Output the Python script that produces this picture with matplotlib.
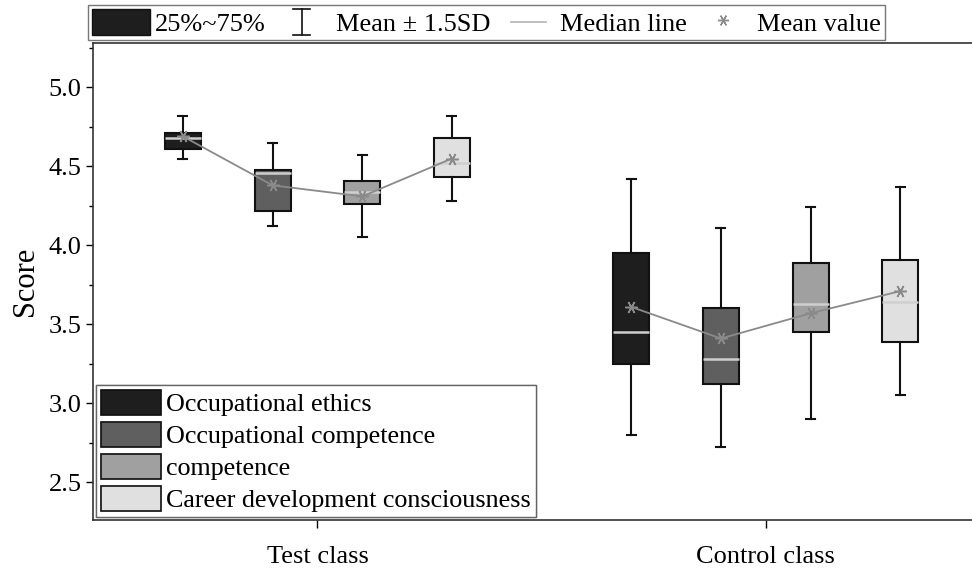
import numpy as np
import matplotlib.pyplot as plt
from matplotlib.patches import Patch
from matplotlib.lines import Line2D
from matplotlib.ticker import MultipleLocator
from matplotlib.legend_handler import HandlerBase

plt.rcParams['font.family'] = ['Liberation Serif', 'DejaVu Serif']

groups = ["Test class", "Control class"]
dims = ["Occupational ethics", "Occupational competence", "competence",
        "Career development consciousness"]
colors = ["#1e1e1e", "#5f5f5f", "#a0a0a0", "#e0e0e0"]

# per group: one value per dimension
whisk_hi = [[4.82, 4.65, 4.57, 4.82], [4.42, 4.11, 4.24, 4.37]]
q3 = [[4.71, 4.48, 4.41, 4.68], [3.95, 3.60, 3.89, 3.91]]
median = [[4.68, 4.46, 4.34, 4.52], [3.45, 3.28, 3.63, 3.64]]
q1 = [[4.61, 4.22, 4.26, 4.43], [3.25, 3.12, 3.45, 3.39]]
whisk_lo = [[4.55, 4.12, 4.05, 4.28], [2.80, 2.72, 2.90, 3.05]]
mean = [[4.69, 4.38, 4.31, 4.55], [3.61, 3.41, 3.57, 3.71]]

offsets = [-0.3, -0.1, 0.1, 0.3]
width = 0.08
star = (6, 2, 90)

fig = plt.figure(figsize=(9.72, 5.69), dpi=100)
ax = fig.add_axes([0.096, 0.086, 0.904, 0.838])

for g in range(len(groups)):
    stats = []
    for d in range(len(dims)):
        stats.append({"med": median[g][d], "q1": q1[g][d], "q3": q3[g][d],
                      "whislo": whisk_lo[g][d], "whishi": whisk_hi[g][d],
                      "fliers": []})
    pos = [g + o for o in offsets]
    bp = ax.bxp(stats, positions=pos, widths=width, patch_artist=True,
                showfliers=False, manage_ticks=False,
                boxprops=dict(linewidth=1.5, edgecolor="#111111"),
                whiskerprops=dict(linewidth=1.5, color="#111111"),
                capprops=dict(linewidth=1.5, color="#111111"),
                medianprops=dict(linewidth=1.8, color="#cfcfcf"),
                capwidths=0.02)
    for patch, c in zip(bp["boxes"], colors):
        patch.set_facecolor(c)
    ax.plot(pos, mean[g], color="#8a8a8a", linewidth=1.3, zorder=5)
    ax.plot(pos, mean[g], linestyle="none", marker=star, markersize=9,
            color="#8a8a8a", markeredgewidth=1.1, zorder=6)

ax.set_xlim(-0.5, 1.46)
ax.set_ylim(2.26, 5.28)
ax.set_xticks([0, 1])
ax.set_xticklabels(groups, fontsize=19)
ax.yaxis.set_major_locator(MultipleLocator(0.5))
ax.yaxis.set_minor_locator(MultipleLocator(0.25))
ax.yaxis.set_major_formatter(plt.FormatStrFormatter("%.1f"))
ax.tick_params(axis="y", labelsize=19, direction="out", length=5, width=1)
ax.tick_params(axis="y", which="minor", direction="out", length=3, width=1)
ax.tick_params(axis="x", direction="out", length=6, width=1, pad=13)
ax.set_ylabel("Score", fontsize=22, labelpad=6)
ax.spines["right"].set_visible(False)
for s in ["left", "bottom", "top"]:
    ax.spines[s].set_linewidth(1.2)
    ax.spines[s].set_color("#333333")

handles = [Patch(facecolor=c, edgecolor="#111111", linewidth=1.2) for c in colors]
leg = ax.legend(handles, dims, loc="lower left", bbox_to_anchor=(0.0, 0.0),
                fontsize=18.7, frameon=True, fancybox=False, edgecolor="#555555",
                handlelength=2.3, handleheight=1.1, handletextpad=0.2,
                labelspacing=0.22, borderpad=0.2, borderaxespad=0.1)
leg.get_frame().set_linewidth(1.0)
ax.add_artist(leg)


class ErrHandler(HandlerBase):
    def create_artists(self, legend, orig_handle, xdescent, ydescent, width, height, fontsize, trans):
        cx = width / 2 - xdescent
        y0 = -ydescent
        y1 = height - ydescent
        w = 6
        arts = [Line2D([cx, cx], [y0, y1], color="#111111", linewidth=1.2, transform=trans),
                Line2D([cx - w, cx + w], [y0, y0], color="#111111", linewidth=1.2, transform=trans),
                Line2D([cx - w, cx + w], [y1, y1], color="#111111", linewidth=1.2, transform=trans)]
        return arts


class ShortLineHandler(HandlerBase):
    def create_artists(self, legend, orig_handle, xdescent, ydescent, width, height, fontsize, trans):
        cy = height / 2 - ydescent
        x0 = -xdescent + width * 0.25
        x1 = -xdescent + width * 0.85
        return [Line2D([x0, x1], [cy, cy], color="#bbbbbb", linewidth=1.3, transform=trans)]


top_handles = [Patch(facecolor="#1e1e1e", edgecolor="#111111"),
               Line2D([0], [0], color="#111111", linestyle="none"),
               Line2D([0], [0], color="#bbbbbb", linewidth=1.3),
               Line2D([0], [0], color="#8a8a8a", marker=star, markersize=8,
                      markeredgewidth=1.0, linestyle="none")]
top_labels = ["25%~75%", "Mean ± 1.5SD", "Median line", "Mean value"]

leg2 = fig.legend(top_handles, top_labels, loc="upper left",
                  bbox_to_anchor=(0.0905, 0.991), ncol=4, fontsize=19,
                  frameon=True, fancybox=False, edgecolor="#555555",
                  handler_map={top_handles[1]: ErrHandler(),
                               top_handles[2]: ShortLineHandler()},
                  handlelength=2.2, handleheight=1.15, handletextpad=0.2,
                  columnspacing=0.25, borderpad=0.15, borderaxespad=0)
leg2.get_frame().set_linewidth(1.0)

fig.savefig("out.png", dpi=100)
